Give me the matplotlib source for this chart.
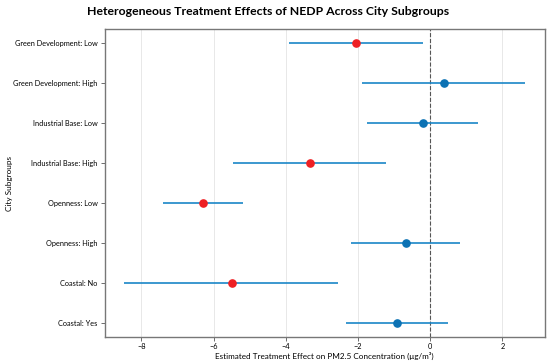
import matplotlib
matplotlib.use("Agg")
import matplotlib.pyplot as plt
import numpy as np

plt.rcParams['font.family'] = ['Lato', 'DejaVu Sans']

subgroups = ["Green Development: Low", "Green Development: High", "Industrial Base: Low",
             "Industrial Base: High", "Openness: Low", "Openness: High",
             "Coastal: No", "Coastal: Yes"]
estimates = [-2.06, 0.37, -0.20, -3.34, -6.30, -0.68, -5.50, -0.92]
ci_low = [-3.90, -1.89, -1.75, -5.47, -7.40, -2.20, -8.47, -2.33]
ci_high = [-0.21, 2.63, 1.32, -1.23, -5.18, 0.82, -2.54, 0.49]

fig = plt.figure(figsize=(5.5, 3.64), dpi=100)
ax = fig.add_axes([0.19, 0.074, 0.801, 0.846])

y = np.arange(len(subgroups))
for i in range(len(subgroups)):
    ax.hlines(y[i], ci_low[i], ci_high[i], color='#1a86c7', lw=1.2, zorder=2)
    sig = ci_high[i] < 0 or ci_low[i] > 0
    ax.plot(estimates[i], y[i], 'o', color='#ee2024' if sig else '#0c72b4',
            ms=5.2, zorder=3)

ax.axvline(0, color='#555555', ls='--', lw=0.8, zorder=1)
ax.set_yticks(y)
ax.set_yticklabels(subgroups, fontsize=5.3)
ax.set_ylim(len(subgroups) - 0.65, -0.35)
ax.set_xlim(-9.02, 3.18)
ax.set_xticks([-8, -6, -4, -2, 0, 2])
ax.tick_params(axis='x', labelsize=5.3, length=3, color='#555555', width=0.6, pad=1)
ax.tick_params(axis='y', length=3, color='#555555', width=0.6, pad=2)
ax.xaxis.grid(True, color='#e8e8e8', lw=0.7)
ax.set_axisbelow(True)
for s in ax.spines.values():
    s.set_color('#777777')
    s.set_linewidth(1.0)
ax.set_xlabel("Estimated Treatment Effect on PM2.5 Concentration (μg/m³)", fontsize=5.9, labelpad=1.5)
ax.set_ylabel("City Subgroups", fontsize=5.9)
ax.yaxis.set_label_coords(-0.207, 0.5)
fig.suptitle("Heterogeneous Treatment Effects of NEDP Across City Subgroups",
             fontsize=8.8, fontweight='bold', x=0.487, y=0.983)
fig.savefig("out.png", dpi=100)
